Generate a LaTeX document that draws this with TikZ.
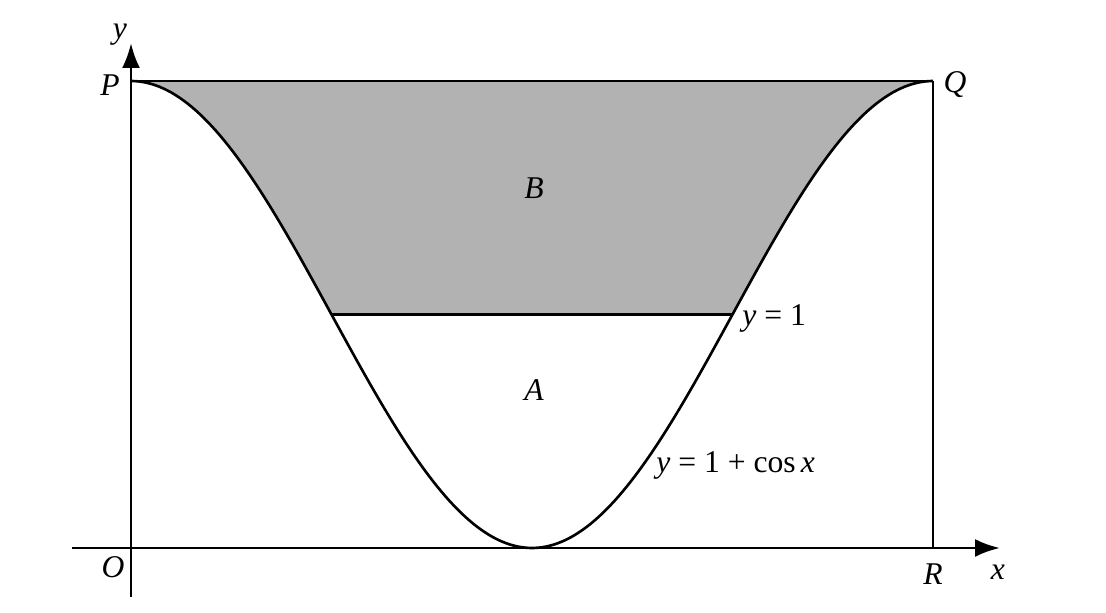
\documentclass[tikz,border=0pt]{standalone}
\usepackage{fontspec}
\setmainfont{Liberation Serif}
\usepackage{tikz}
\usetikzlibrary{arrows.meta}
\pgfdeclarelayer{edgelayer}
\pgfdeclarelayer{nodelayer}
\pgfsetlayers{edgelayer,main,nodelayer}
\tikzstyle{axis}=[-{Latex[length=0.5cm,width=0.36cm]}, line width=1.7pt]
\tikzstyle{curve}=[line width=1.5pt]
\tikzstyle{region}=[fill=black!30, draw=none]
\tikzstyle{lbl}=[font=\fontsize{18}{21}\selectfont\itshape, inner sep=0pt]
\tikzstyle{eqn}=[font=\fontsize{18}{21}\selectfont, inner sep=0pt, anchor=west]
\begin{document}
\begin{tikzpicture}
            \useasboundingbox (-2.62, -1.28) rectangle (19.5, 10.96);
            \coordinate (O) at (0, 0);
            \coordinate (P) at (0, 9.34);
            \coordinate (Q) at (16.04, 9.34);
            \coordinate (R) at (16.04, 0);
            \coordinate (L) at (4.01, 4.67);
            \coordinate (M) at (12.03, 4.67);
            \coordinate (xs) at (-1.18, 0);
            \coordinate (xe) at (17.38, 0);
            \coordinate (ys) at (0, -0.98);
            \coordinate (ye) at (0, 10.1);
            \begin{pgfonlayer}{edgelayer}
                \fill [style=region] (P) -- (Q)
                    -- plot [domain=6.2832:4.7124, samples=60] ({2.5528*\x}, {4.67*(1+cos(\x r))})
                    -- (L)
                    -- plot [domain=1.5708:0, samples=60] ({2.5528*\x}, {4.67*(1+cos(\x r))})
                    -- cycle;
            \end{pgfonlayer}
            \draw [style=axis] (xs) to (xe);
            \draw [style=axis] (ys) to (ye);
            \draw [style=curve] (P) to (Q);
            \draw [style=curve] (Q) to (R);
            \draw [style=curve] (L) to (M);
            \draw [style=curve] plot [domain=0:6.2832, samples=200] ({2.5528*\x}, {4.67*(1+cos(\x r))});
            \begin{pgfonlayer}{nodelayer}
                \node [style=lbl] (ylab) at (-0.22, 10.26) {y};
                \node [style=lbl] (Plab) at (-0.42, 9.26) {P};
                \node [style=lbl] (Qlab) at (16.48, 9.26) {Q};
                \node [style=lbl] (Olab) at (-0.36, -0.38) {O};
                \node [style=lbl] (Rlab) at (16.04, -0.52) {R};
                \node [style=lbl] (xlab) at (17.34, -0.48) {x};
                \node [style=lbl] (Blab) at (8.06, 7.2) {B};
                \node [style=lbl] (Alab) at (8.06, 3.16) {A};
                \node [style=eqn] (line) at (12.22, 4.6) {\textit{y} = 1};
                \node [style=eqn] (func) at (10.5, 1.66) {\textit{y} = 1 + cos\,\textit{x}};
            \end{pgfonlayer}
        \end{tikzpicture}
\end{document}
